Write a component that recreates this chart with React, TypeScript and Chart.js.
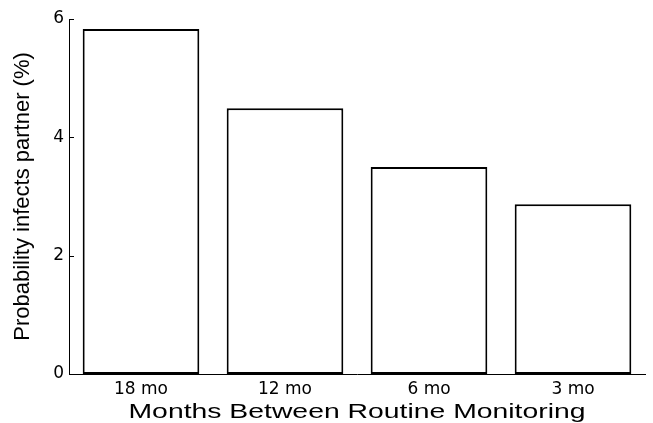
import React, { useEffect, useRef } from 'react';
import { Chart, registerables } from 'chart.js';

Chart.register(...registerables);

const categories = ['18 mo', '12 mo', '6 mo', '3 mo'];
const probabilities = [5.83, 4.49, 3.5, 2.87];
const yTicks = [0, 2, 4, 6];
const xTitle = 'Months Between Routine Monitoring';
const yTitle = 'Probability infects partner (%)';

export default function App() {
  const ref = useRef<HTMLCanvasElement>(null);

  useEffect(() => {
    document.body.style.margin = '0';
    const canvas = ref.current;
    if (!canvas) return;

    const innerTicks = {
      id: 'innerTicks',
      afterDatasetsDraw(chart: any) {
        const { ctx, chartArea } = chart;
        const y = chart.scales.y;
        ctx.save();
        ctx.strokeStyle = '#000';
        ctx.lineWidth = 1;
        for (const v of yTicks) {
          const py = Math.round(y.getPixelForValue(v)) + 0.5;
          ctx.beginPath();
          ctx.moveTo(chartArea.left, py);
          ctx.lineTo(chartArea.left + 5, py);
          ctx.stroke();
        }
        ctx.restore();
      },
    };

    const stretchedTitle = {
      id: 'stretchedTitle',
      afterDraw(chart: any) {
        const { ctx, chartArea } = chart;
        ctx.save();
        ctx.font = "21px 'Liberation Sans', Arial, sans-serif";
        ctx.fillStyle = '#000';
        ctx.textAlign = 'center';
        ctx.textBaseline = 'alphabetic';
        const cx = (chartArea.left + chartArea.right) / 2;
        ctx.translate(cx, chart.height - 5);
        ctx.scale(1.35, 1);
        ctx.fillText(xTitle, 0, 0);
        ctx.restore();
      },
    };

    const chart = new Chart(canvas, {
      type: 'bar',
      data: {
        labels: categories,
        datasets: [
          {
            data: probabilities,
            backgroundColor: '#ffffff',
            borderColor: '#000000',
            borderWidth: 2,
            borderSkipped: false,
            barPercentage: 0.81,
            categoryPercentage: 1,
          },
        ],
      },
      options: {
        animation: false,
        responsive: false,
        devicePixelRatio: 1,
        layout: { padding: { top: 19, right: 8, bottom: 0, left: 0 } },
        plugins: {
          legend: { display: false },
          tooltip: { enabled: false },
        },
        scales: {
          x: {
            grid: { display: false, drawTicks: false },
            border: { display: true, color: '#000', width: 1 },
            ticks: {
              color: '#000',
              padding: 5,
              font: { family: "'DejaVu Sans', sans-serif", size: 17 },
            },
            afterFit: (s: any) => {
              s.height = 49;
            },
          },
          y: {
            min: 0,
            max: 6,
            grid: { display: false, drawTicks: false },
            border: { display: true, color: '#000', width: 1 },
            ticks: {
              color: '#000',
              padding: 5,
              stepSize: 2,
              font: { family: "'DejaVu Sans', sans-serif", size: 17 },
            },
            afterBuildTicks: (s: any) => {
              s.ticks = yTicks.map((v) => ({ value: v }));
            },
            title: {
              display: true,
              text: yTitle,
              color: '#000',
              padding: { top: 10, bottom: 0 },
              font: { family: "'Liberation Sans', Arial, sans-serif", size: 22 },
            },
            afterFit: (s: any) => {
              s.width = 69;
            },
          },
        },
      },
      plugins: [innerTicks, stretchedTitle],
    });

    return () => chart.destroy();
  }, []);

  return (
    <div style={{ position: 'fixed', left: 0, top: 0, width: 653, height: 423, background: '#fff' }}>
      <canvas ref={ref} width={653} height={423} style={{ display: 'block' }} />
    </div>
  );
}
